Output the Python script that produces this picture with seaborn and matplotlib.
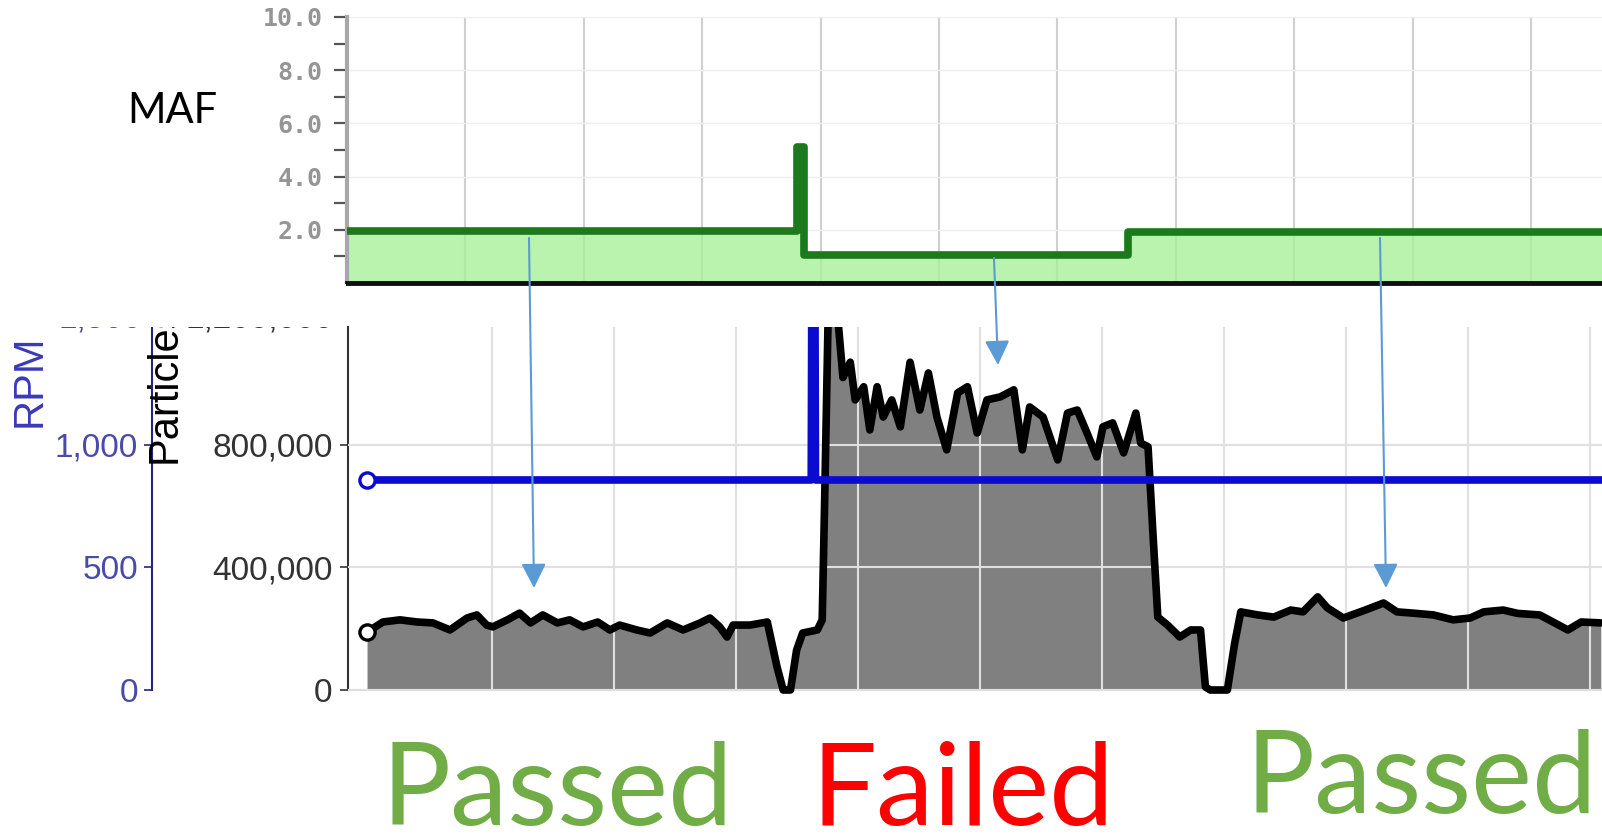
import numpy as np
import pandas as pd
import matplotlib
matplotlib.use("Agg")
import matplotlib.pyplot as plt
from matplotlib.patches import FancyArrowPatch, Rectangle
from matplotlib.ticker import FixedLocator, FuncFormatter
from matplotlib.transforms import Bbox, TransformedBbox
import seaborn as sns

# ---------------- data ----------------
maf_time = [0, 38.0, 38.6, 66.0, 106.0]
maf_value = [1.95, 5.1, 1.05, 1.93, 1.93]

particle_time = [0, 1.3, 2.7, 4.1, 5.4, 6.8, 8.2, 9.0, 9.8, 10.3, 11.5, 12.5, 13.4, 14.4,
                 15.6, 16.6, 17.7, 18.9, 19.9, 20.7, 22.1, 23.2, 24.6, 25.9, 27.3, 28.1,
                 28.9, 29.5, 30.0, 31.4, 32.8, 33.6, 34.1, 34.7, 35.2, 35.7, 36.9, 37.3,
                 37.5, 37.8, 38.5, 39.0, 39.6, 40.0, 40.7, 41.2, 41.8, 42.3, 43.0, 43.7,
                 44.5, 45.3, 46.0, 46.7, 47.5, 48.4, 49.2, 50.0, 50.8, 51.9, 53.0, 53.7,
                 54.3, 55.4, 56.6, 57.4, 58.2, 59.0, 59.8, 60.3, 61.1, 62.0, 63.0, 63.4,
                 64.0, 64.4, 64.8, 65.6, 66.6, 67.5, 68.3, 68.7, 69.1, 70.5, 71.1, 71.6,
                 73.0, 74.3, 75.7, 76.7, 77.9, 78.7, 80.0, 81.8, 83.3, 84.4, 85.7, 87.4,
                 89.0, 90.4, 91.5, 93.1, 94.3, 96.1, 98.4, 99.5, 101.1]
particle_count = [189, 222, 229, 222, 219, 196, 235, 245, 212, 206, 229, 251, 219, 245,
                  219, 229, 206, 222, 196, 212, 196, 186, 219, 196, 219, 235,
                  206, 173, 212, 212, 222, 75, 0, 0, 130, 186, 196, 229,
                  620, 1250, 1250, 1020, 1070, 947, 990, 849, 990, 891, 947, 859,
                  1070, 914, 1035, 891, 784, 970, 990, 839, 947, 957, 980, 784,
                  924, 891, 751, 904, 914, 839, 761, 859, 872, 774, 904, 806,
                  794, 512, 238, 212, 173, 196, 196, 10, 0, 0, 153, 255,
                  245, 238, 261, 255, 304, 268, 235, 261, 284, 255, 251, 245,
                  229, 235, 255, 261, 250, 245, 196, 222, 219]
particle_count = [v * 1000 for v in particle_count]

rpm_time = [0, 36.4, 36.45, 36.7, 36.75, 101.2]
rpm_value = [857, 857, 1700, 1700, 857, 857]

rpm_ticks = [0, 500, 1000]
particle_ticks = [0, 400000, 800000]
maf_ticks = [2, 4, 6, 8, 10]

# ---------------- layout helpers ----------------
W, H = 1602, 836


def fx(px):
    return px / W


def fy(py):
    return 1 - py / H


sns.set_style("white")
plt.rcParams["font.family"] = ["Liberation Sans", "DejaVu Sans"]

fig = plt.figure(figsize=(W / 100, H / 100), dpi=100)

# ---------------- top: MAF ----------------
ax_top = fig.add_axes([fx(347), fy(283), fx(1602) - fx(347), fy(17) - fy(283)])
maf_df = pd.DataFrame({"t": maf_time, "maf": maf_value})
ax_top.fill_between(maf_df["t"], maf_df["maf"], step="post", color="#a8f09a",
                    alpha=0.8, lw=0, zorder=2)
sns.lineplot(data=maf_df, x="t", y="maf", ax=ax_top, color="#1b7a1b", lw=5.5,
             drawstyle="steps-post", estimator=None, zorder=3)
ax_top.set_xlim(0, 106)
ax_top.set_ylim(0, 10)
ax_top.set_xlabel("")
ax_top.set_ylabel("")
ax_top.set_xticks(np.arange(10, 106, 10))
ax_top.set_yticks(maf_ticks)
ax_top.set_yticks([1, 3, 5, 7, 9], minor=True)
ax_top.set_yticklabels([f"{v:.1f}" for v in maf_ticks], family="DejaVu Sans Mono",
                       fontweight="bold", fontsize=18, color="#959595")
ax_top.tick_params(axis="x", length=0, labelbottom=False)
ax_top.tick_params(axis="y", which="both", direction="out", length=9.5, width=1.6,
                   color="#555555", pad=8, left=True)
ax_top.grid(True, axis="x", color="#d0d0d0", lw=1.5, zorder=1)
ax_top.grid(True, axis="y", color="#eeeeee", lw=1, zorder=1)
ax_top.set_axisbelow(True)
for s in ["top", "right"]:
    ax_top.spines[s].set_visible(False)
ax_top.spines["left"].set_color("#a8a8a8")
ax_top.spines["left"].set_linewidth(3)
ax_top.spines["bottom"].set_color("#111111")
ax_top.spines["bottom"].set_linewidth(3.5)

fig.text(fx(127), fy(111), "MAF", family="Lato", fontsize=30, color="black",
         ha="left", va="center")

# ---------------- bottom: particles + RPM ----------------
ax_bot = fig.add_axes([fx(348), fy(690), fx(1602) - fx(348), fy(327) - fy(690)])
p_df = pd.DataFrame({"t": particle_time, "count": particle_count})
ax_bot.fill_between(p_df["t"], p_df["count"], color="#808080", lw=0, zorder=1)
sns.lineplot(data=p_df, x="t", y="count", ax=ax_bot, color="black", lw=5.5,
             estimator=None, zorder=4)
p_line = ax_bot.lines[-1]
p_line.set_solid_joinstyle("round")
p_line.set_clip_box(TransformedBbox(Bbox([[-1.56, -40000], [101.2, 1185000]]),
                                    ax_bot.transData))
sns.scatterplot(x=[particle_time[0]], y=[particle_count[0]], ax=ax_bot, s=120,
                facecolor="white", edgecolor="black", linewidth=2.4, zorder=5)
ax_bot.set_xlim(-1.56, 101.2)
ax_bot.set_ylim(0, 1185000)
ax_bot.set_xlabel("")
ax_bot.set_ylabel("")
ax_bot.xaxis.set_major_locator(FixedLocator(np.arange(10.25, 101, 10)))
ax_bot.set_yticks(particle_ticks)
ax_bot.yaxis.set_major_formatter(FuncFormatter(lambda v, p: f"{int(v):,}"))
ax_bot.tick_params(axis="x", length=0, labelbottom=False)
ax_bot.tick_params(axis="y", direction="out", length=6, width=1.2, color="#333333",
                   pad=5, labelsize=24, labelcolor="#333333", left=True)
ax_bot.grid(True, color="#e0e0e0", lw=1.5, zorder=2)
ax_bot.set_axisbelow(False)
for s in ["top", "right"]:
    ax_bot.spines[s].set_visible(False)
ax_bot.spines["left"].set_color("#333333")
ax_bot.spines["left"].set_linewidth(1.5)
ax_bot.spines["bottom"].set_color("#dddddd")
ax_bot.spines["bottom"].set_linewidth(1.5)

ax_rpm = ax_bot.twinx()
r_df = pd.DataFrame({"t": rpm_time, "rpm": rpm_value})
sns.lineplot(data=r_df, x="t", y="rpm", ax=ax_rpm, color="#0a0ad0", lw=5.5,
             estimator=None, zorder=4)
sns.scatterplot(x=[rpm_time[0]], y=[rpm_value[0]], ax=ax_rpm, s=120,
                facecolor="white", edgecolor="#0a0ad0", linewidth=2.4, zorder=5)
ax_rpm.set_ylim(0, 1185000 / 800)
ax_rpm.set_xlim(-1.56, 101.2)
ax_rpm.set_ylabel("")
ax_rpm.yaxis.set_ticks_position("left")
ax_rpm.spines["left"].set_position(("axes", (152 - 348) / (1602 - 348)))
ax_rpm.spines["left"].set_visible(True)
ax_rpm.spines["left"].set_color("#25257a")
ax_rpm.spines["left"].set_linewidth(1.5)
for s in ["top", "right", "bottom"]:
    ax_rpm.spines[s].set_visible(False)
ax_rpm.set_yticks(rpm_ticks)
ax_rpm.yaxis.set_major_formatter(FuncFormatter(lambda v, p: f"{int(v):,}"))
ax_rpm.tick_params(axis="y", direction="out", length=6, width=1.2, color="#25257a",
                   pad=4, labelsize=24, labelcolor="#4a4aa8", left=True, right=False,
                   labelleft=True, labelright=False)
ax_rpm.grid(False)

# clipped top labels of the two axes
fig.text(fx(142), fy(319), "1,500", fontsize=24, color="#4a4aa8", ha="right", va="center")
fig.text(fx(333), fy(319), "1,200,000", fontsize=24, color="#333333", ha="right", va="center")

fig.text(fx(30), fy(381), "RPM", fontsize=30, color="#3a3ab8", rotation=90,
         ha="center", va="center")
fig.text(fx(165), fy(463), "Particles", fontsize=30, color="black", rotation=90,
         rotation_mode="anchor", ha="left", va="center", zorder=6)

fig.add_artist(Rectangle((0, fy(327)), fx(346), fy(284) - fy(327),
                         transform=fig.transFigure, facecolor="white",
                         edgecolor="none", zorder=8))

# ---------------- arrows ----------------
arrows = [((529, 238), (534, 588)), ((994, 258), (998, 365)), ((1380, 238), (1386, 588))]
for (x0, y0), (x1, y1) in arrows:
    fig.add_artist(FancyArrowPatch((fx(x0), fy(y0)), (fx(x1), fy(y1)),
                                   transform=fig.transFigure,
                                   arrowstyle="-|>,head_length=0.75,head_width=0.38",
                                   mutation_scale=20, color="#5b9bd5", lw=1.5,
                                   shrinkA=0, shrinkB=0, zorder=9))

# ---------------- verdict labels ----------------
fig.text(fx(381), fy(825), "Passed", family="Lato", fontsize=83, color="#70ad47",
         ha="left", va="baseline")
fig.text(fx(811), fy(825), "Failed", family="Lato", fontsize=83, color="#ff0000",
         ha="left", va="baseline")
fig.text(fx(1245), fy(813), "Passed", family="Lato", fontsize=83, color="#70ad47",
         ha="left", va="baseline")

fig.savefig("out.png", dpi=100)
